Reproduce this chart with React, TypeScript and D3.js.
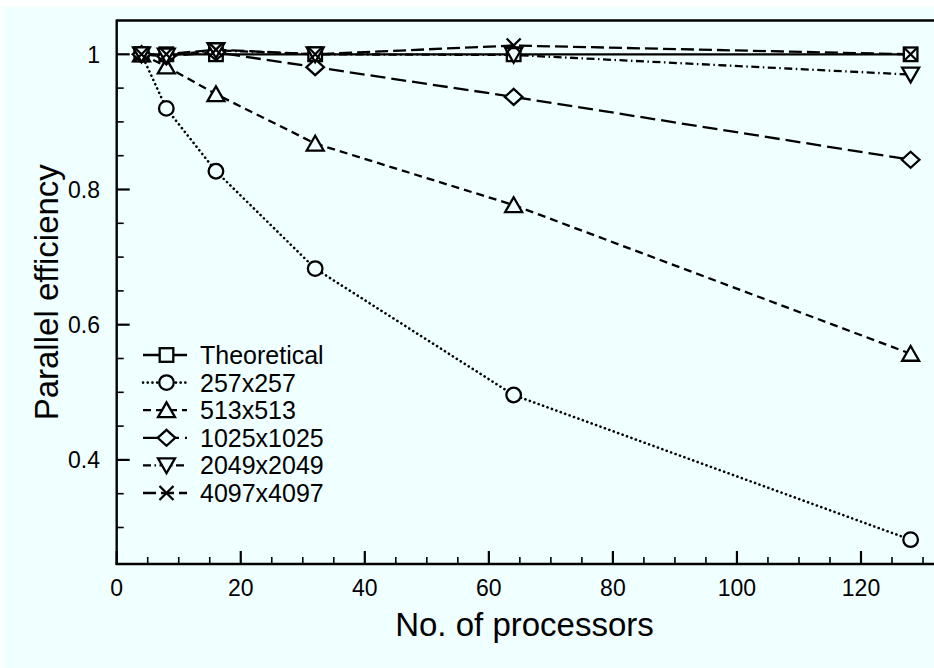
import React from "react";
import * as d3 from "d3";

const processors = [4, 8, 16, 32, 64, 128];
const theoretical = [1, 1, 1, 1, 1, 1];
const s257 = [1, 0.92, 0.827, 0.683, 0.496, 0.282];
const s513 = [1, 0.982, 0.941, 0.868, 0.777, 0.557];
const s1025 = [1, 0.997, 1.003, 0.981, 0.937, 0.844];
const s2049 = [1, 0.998, 1.006, 1.0, 0.999, 0.97];
const s4097 = [1, 1.0, 1.007, 1.0, 1.013, 1.0];
const seriesNames = ["Theoretical", "257x257", "513x513", "1025x1025", "2049x2049", "4097x4097"];
const xMajorTicks = [0, 20, 40, 60, 80, 100, 120];
const yMajorTicks = [0.4, 0.6, 0.8, 1];
const yTickLabels = ["0.4", "0.6", "0.8", "1"];

const W = 934;
const H = 668;
const BG = "#F0FFFF";
const FONT = "'Liberation Sans', Arial, Helvetica, sans-serif";

const x = d3.scaleLinear().domain([0, 132]).range([116.7, 116.7 + 132 * 6.2025]);
const y = d3.scaleLinear().domain([0.246, 1.05]).range([564, 20.5]);

const dashes = ["none", "0.1,4.6", "8,5", "15,6", "8,3.5,1.5,3.5", "13,5"];
const caps = ["butt", "round", "butt", "butt", "butt", "butt"];
const markers = ["square", "circle", "triangle", "diamond", "triangleDown", "cross"];

function Marker({ type, cx, cy }: { type: string; cx: number; cy: number }) {
  const common = { stroke: "#000", strokeWidth: 2.3, fill: BG };
  switch (type) {
    case "square":
      return <rect x={cx - 6.8} y={cy - 6.8} width={13.6} height={13.6} {...common} />;
    case "circle":
      return <circle cx={cx} cy={cy} r={7.3} {...common} />;
    case "triangle":
      return <path d={`M${cx},${cy - 7.8}L${cx + 8.5},${cy + 7}L${cx - 8.5},${cy + 7}Z`} {...common} />;
    case "triangleDown":
      return <path d={`M${cx},${cy + 7.8}L${cx + 8.5},${cy - 7}L${cx - 8.5},${cy - 7}Z`} {...common} />;
    case "diamond":
      return <path d={`M${cx},${cy - 8}L${cx + 8.8},${cy}L${cx},${cy + 8}L${cx - 8.8},${cy}Z`} {...common} />;
    case "cross":
      return (
        <path
          d={`M${cx - 7},${cy - 7}L${cx + 7},${cy + 7}M${cx - 7},${cy + 7}L${cx + 7},${cy - 7}`}
          stroke="#000"
          strokeWidth={2.3}
          fill="none"
        />
      );
  }
  return null;
}

export default function App() {
  const allSeries = [theoretical, s257, s513, s1025, s2049, s4097];
  const line = d3
    .line<number>()
    .x((_, i) => x(processors[i]))
    .y((d) => y(d));

  const x0 = x(0);
  const xr = x(132);
  const yb = y(0.246);
  const yt = y(1.05);

  const xMinor = d3.range(0, 131, 5).filter((v) => v % 20 !== 0);
  const yMinor = d3
    .range(0.3, 1.04, 0.05)
    .map((v) => +v.toFixed(2))
    .filter((v) => !yMajorTicks.some((m) => Math.abs(m - v) < 1e-6));

  const legX0 = 143;
  const legX1 = 187;
  const legMX = 166.5;
  const legY = (i: number) => 355 + i * 27.6;

  return (
    <svg
      width={W}
      height={H}
      style={{ position: "absolute", left: 0, top: 0, display: "block" }}
      fontFamily={FONT}
    >
      <rect x={0} y={0} width={W} height={H} fill="#fff" />
      <rect x={3} y={7} width={W - 3} height={H - 7} fill={BG} />

      {/* frame */}
      <line x1={x0} x2={W + 5} y1={yt} y2={yt} stroke="#000" strokeWidth={2.4} />
      <line x1={x0} x2={x0} y1={yt - 1} y2={yb + 1} stroke="#000" strokeWidth={2.4} />
      <line x1={x0 - 1} x2={Math.max(xr, W + 5)} y1={yb} y2={yb} stroke="#000" strokeWidth={2.4} />

      {/* x ticks */}
      {xMajorTicks.map((t) => (
        <g key={"xt" + t}>
          <line x1={x(t)} x2={x(t)} y1={yb} y2={yb - 13} stroke="#000" strokeWidth={2.2} />
          <text x={x(t)} y={596} fontSize={23} textAnchor="middle" fill="#000">
            {t}
          </text>
        </g>
      ))}
      {xMinor.map((t) => (
        <line key={"xm" + t} x1={x(t)} x2={x(t)} y1={yb} y2={yb - 7} stroke="#000" strokeWidth={1.6} />
      ))}

      {/* y ticks */}
      {yMajorTicks.map((t, i) => (
        <g key={"yt" + t}>
          <line x1={x0} x2={x0 + 13} y1={y(t)} y2={y(t)} stroke="#000" strokeWidth={2.2} />
          <text x={100} y={y(t)} dy="0.36em" fontSize={23} textAnchor="end" fill="#000">
            {yTickLabels[i]}
          </text>
        </g>
      ))}
      {yMinor.map((t) => (
        <line key={"ym" + t} x1={x0} x2={x0 + 7} y1={y(t)} y2={y(t)} stroke="#000" strokeWidth={1.6} />
      ))}

      {/* axis titles */}
      <text x={524.5} y={636} fontSize={33} textAnchor="middle" fill="#000">
        No. of processors
      </text>
      <text
        transform={`translate(58, ${(yt + yb) / 2}) rotate(-90)`}
        fontSize={33}
        textAnchor="middle"
        fill="#000"
      >
        Parallel efficiency
      </text>

      {/* lines */}
      {allSeries.map((s, si) => (
        <path
          key={"l" + si}
          d={line(s) || ""}
          fill="none"
          stroke="#000"
          strokeWidth={si === 1 ? 2.6 : 2.3}
          strokeLinecap={caps[si] as any}
          strokeDasharray={dashes[si]}
        />
      ))}

      {/* markers */}
      {allSeries.map((s, si) =>
        s.map((v, i) => <Marker key={`m${si}-${i}`} type={markers[si]} cx={x(processors[i])} cy={y(v)} />)
      )}

      {/* legend */}
      {seriesNames.map((name, i) => (
        <g key={"lg" + i}>
          <line
            x1={legX0}
            x2={legX1}
            y1={legY(i)}
            y2={legY(i)}
            stroke="#000"
            strokeWidth={i === 1 ? 2.6 : 2.3}
            strokeLinecap={caps[i] as any}
            strokeDasharray={dashes[i]}
          />
          <Marker type={markers[i]} cx={legMX} cy={legY(i)} />
          <text x={200} y={legY(i)} dy="0.36em" fontSize={25} fill="#000">
            {name}
          </text>
        </g>
      ))}
    </svg>
  );
}
